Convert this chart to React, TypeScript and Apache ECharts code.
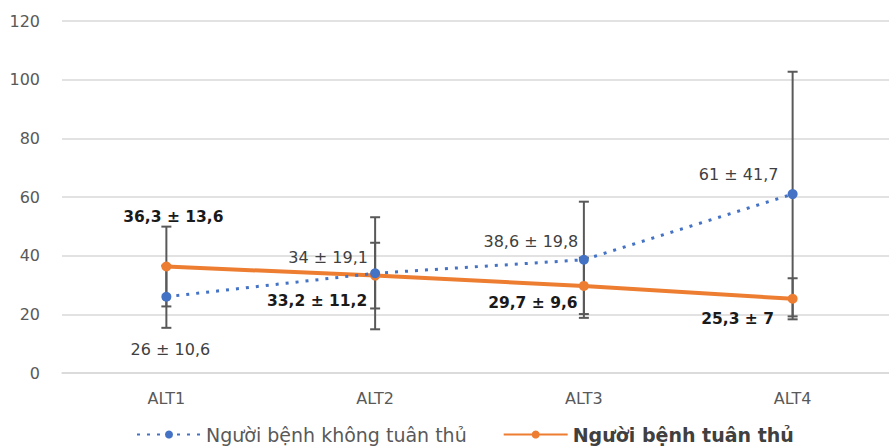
import React, { useEffect, useRef } from "react";
import * as echarts from "echarts";

const categories = ["ALT1", "ALT2", "ALT3", "ALT4"];
const nonAdherentName = "Người bệnh không tuân thủ";
const adherentName = "Người bệnh tuân thủ";
const nonAdherentMean = [26, 34, 38.6, 61];
const nonAdherentSD = [10.6, 19.1, 19.8, 41.7];
const adherentMean = [36.3, 33.2, 29.7, 25.3];
const adherentSD = [13.6, 11.2, 9.6, 7];
const yTicks = { min: 0, max: 120, interval: 20 };

const nonAdherentLabelOffsets = [[4, 53], [-47, -16], [-53, -18], [-54, -20]];
const adherentLabelOffsets = [[7, -50], [-58, 25], [-51, 17], [-55, 20]];

const fmt = (v: number) => String(v).replace(".", ",");

const BLUE = "#4472C4";
const ORANGE = "#ED7D31";
const FONT = "DejaVu Sans";
const CHART_W = 897;

function errorBarSeries(mean: number[], sd: number[], name: string) {
  return {
    type: "custom",
    name,
    z: 1,
    silent: true,
    data: mean.map((m, i) => [i, +(m - sd[i]).toFixed(2), +(m + sd[i]).toFixed(2)]),
    renderItem: (params: any, api: any) => {
      const lo = api.coord([api.value(0), api.value(1)]);
      const hi = api.coord([api.value(0), api.value(2)]);
      const half = 5;
      const style = { stroke: "#595959", lineWidth: 2 };
      return {
        type: "group",
        children: [
          { type: "line", shape: { x1: lo[0], y1: lo[1], x2: hi[0], y2: hi[1] }, style },
          { type: "line", shape: { x1: lo[0] - half, y1: lo[1], x2: lo[0] + half, y2: lo[1] }, style },
          { type: "line", shape: { x1: hi[0] - half, y1: hi[1], x2: hi[0] + half, y2: hi[1] }, style },
        ],
      };
    },
  };
}

export default function App() {
  const ref = useRef<HTMLDivElement>(null);
  useEffect(() => {
    if (!ref.current) return;
    const chart = echarts.init(ref.current, undefined, { renderer: "svg" });
    chart.setOption({
      animation: false,
      textStyle: { fontFamily: FONT },
      grid: { left: 62, right: 0, top: 21, bottom: 75, containLabel: false },
      legend: {
        left: 131,
        top: 420,
        itemWidth: 64,
        itemHeight: 10,
        itemGap: 36,
        textStyle: { fontSize: 19, color: "#595959", fontFamily: FONT },
        data: [
          { name: nonAdherentName },
          { name: adherentName, textStyle: { fontWeight: "bold", color: "#404040" } },
        ],
      },
      xAxis: {
        type: "category",
        data: categories,
        axisLine: { lineStyle: { color: "#d9d9d9", width: 1.5 } },
        axisTick: { show: false },
        axisLabel: { color: "#595959", fontSize: 16, margin: 17, fontFamily: FONT },
      },
      yAxis: {
        type: "value",
        min: yTicks.min,
        max: yTicks.max,
        interval: yTicks.interval,
        axisLine: { show: false },
        axisTick: { show: false },
        axisLabel: { color: "#595959", fontSize: 16, margin: 22, fontFamily: FONT },
        splitLine: { lineStyle: { color: "#d9d9d9", width: 1.5 } },
      },
      series: [
        errorBarSeries(nonAdherentMean, nonAdherentSD, "eb1"),
        errorBarSeries(adherentMean, adherentSD, "eb2"),
        {
          type: "line",
          name: adherentName,
          z: 3,
          symbol: "circle",
          symbolSize: 10,
          itemStyle: { color: ORANGE },
          lineStyle: { color: ORANGE, width: 4 },
          data: adherentMean.map((m, i) => ({
            value: m,
            label: {
              show: true,
              position: "inside",
              offset: adherentLabelOffsets[i],
              formatter: `${fmt(m)} ± ${fmt(adherentSD[i])}`,
              fontSize: 15.5,
              fontWeight: "bold",
              color: "#1a1a1a",
              fontFamily: FONT,
            },
          })),
        },
        {
          type: "line",
          name: nonAdherentName,
          z: 4,
          symbol: "circle",
          symbolSize: 10,
          itemStyle: { color: BLUE },
          lineStyle: { color: BLUE, width: 3, type: [3, 7] },
          data: nonAdherentMean.map((m, i) => ({
            value: m,
            label: {
              show: true,
              position: "inside",
              offset: nonAdherentLabelOffsets[i],
              formatter: `${fmt(m)} ± ${fmt(nonAdherentSD[i])}`,
              fontSize: 16,
              color: "#404040",
              fontFamily: FONT,
            },
          })),
        },
      ],
    });
    return () => chart.dispose();
  }, []);
  return (
    <div style={{ position: "absolute", left: 0, top: 0, width: 889, height: 448, overflow: "hidden", background: "#fff" }}>
      <div ref={ref} style={{ width: CHART_W, height: 448 }} />
    </div>
  );
}
